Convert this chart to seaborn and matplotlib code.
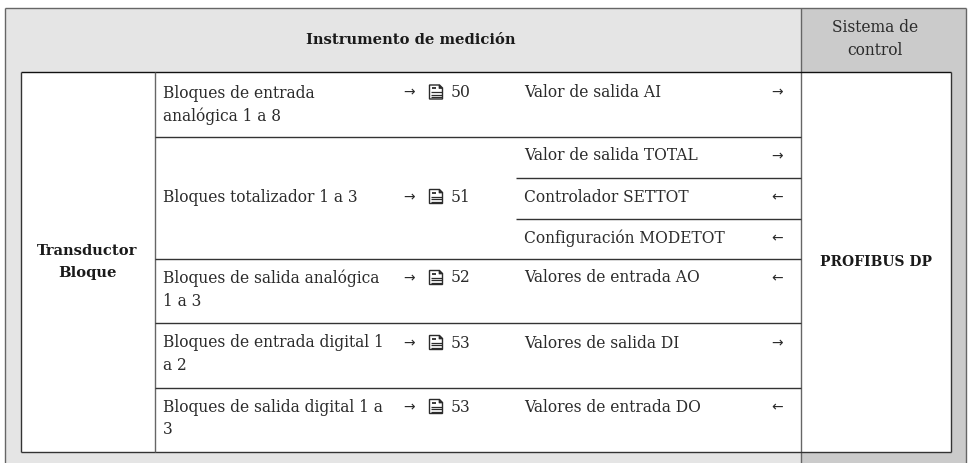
import numpy as np
import matplotlib
matplotlib.use("Agg")
import matplotlib.pyplot as plt
from matplotlib.colors import ListedColormap
from matplotlib.patches import Polygon
import seaborn as sns

WIDTH, HEIGHT = 968, 463
FONT = "DejaVu Serif"
TEXT_COLOR = "#2b2b2b"

# table content
header_left = "Instrumento de medición"
header_right = "Sistema de\ncontrol"
left_label = "Transductor\nBloque"
right_label = "PROFIBUS DP"
blocks = [
    "Bloques de entrada\nanalógica 1 a 8",
    "Bloques totalizador 1 a 3",
    "Bloques de salida analógica\n1 a 3",
    "Bloques de entrada digital 1\na 2",
    "Bloques de salida digital 1 a\n3",
]
block_text_y = [84.5, 188.5, 269.5, 334, 398.5]
block_pages = ["50", "51", "52", "53", "53"]
page_y = [92.5, 197, 278, 343, 407]
values = [
    "Valor de salida AI",
    "Valor de salida TOTAL",
    "Controlador SETTOT",
    "Configuración MODETOT",
    "Valores de entrada AO",
    "Valores de salida DI",
    "Valores de entrada DO",
]
value_y = [92.5, 156, 197, 238, 278, 343, 407]
value_arrows = ["→", "→", "←", "←", "←", "→", "←"]

# table rules, in pixels
row_lines = [136.5, 177.5, 218.5, 258.5, 323, 387.5]
row_line_start = [155, 516, 516, 155, 155, 155]


def background():
    """Pixel grid of the three fills: white, light grey, darker grey."""
    grid = np.zeros((HEIGHT, WIDTH))
    grid[8:, 5:801] = 1
    grid[8:, 801:966] = 2
    grid[72:452, 21:951] = 0
    return grid


def doc_icon(ax, x, y):
    """Small page symbol in front of the page numbers."""
    w, h = 13, 14
    outline = [(x, y), (x + w - 3, y), (x + w, y + 3), (x + w, y + h), (x, y + h)]
    ax.add_patch(Polygon(outline, closed=True, fc="white", ec=TEXT_COLOR, lw=1))
    ax.add_patch(Polygon([(x + w - 3.5, y), (x + w, y + 3.5), (x + w - 3.5, y + 3.5)],
                         closed=True, fc=TEXT_COLOR, ec=TEXT_COLOR, lw=0.5))
    ax.hlines([y + 7, y + 9.5, y + 12], x + 1, x + w - 1, color=TEXT_COLOR, lw=0.9)
    ax.hlines(y + 3, x + 2, x + 6, color=TEXT_COLOR, lw=1.3)


def main():
    sns.set_theme(style="white")
    fig = plt.figure(figsize=(WIDTH / 100, HEIGHT / 100), dpi=100)
    ax = fig.add_axes([0, 0, 1, 1])
    cmap = ListedColormap(["#ffffff", "#e5e5e5", "#cbcbcb"])
    sns.heatmap(background(), cmap=cmap, vmin=0, vmax=2, cbar=False,
                xticklabels=False, yticklabels=False, ax=ax)
    ax.set_xlim(0, WIDTH)
    ax.set_ylim(HEIGHT, 0)
    ax.axis("off")

    # outer and inner rules
    dark = "#333333"
    mid = "#666666"
    ax.hlines(7.5, 5, 966, color=mid, lw=1)
    ax.vlines(5, 7.5, HEIGHT, color=mid, lw=1)
    ax.vlines(800.5, 7.5, HEIGHT, color=mid, lw=1)
    ax.vlines(966, 7.5, HEIGHT, color=mid, lw=1)
    ax.hlines(72, 20.5, 950.5, color="#111111", lw=1)
    ax.hlines(452, 20.5, 950.5, color=dark, lw=1)
    ax.vlines(20.5, 72, 452, color=dark, lw=1)
    ax.vlines(950.5, 72, 452, color=dark, lw=1)
    ax.vlines(155, 72, 452, color=mid, lw=1)
    for y, x0 in zip(row_lines, row_line_start):
        ax.hlines(y, x0, 800.5, color=dark, lw=1)

    kw = dict(family=FONT, fontsize=11.2, color=TEXT_COLOR, linespacing=1.45)
    bold = dict(family=FONT, fontsize=10.6, color="#1a1a1a", linespacing=1.75,
                weight="bold")
    ax.text(410.5, 39.5, header_left, ha="center", va="center", **bold)
    ax.text(875, 39, header_right, ha="center", va="center", **kw)
    ax.text(87.5, 262, left_label, ha="center", va="center", **bold)
    ax.text(875.5, 262, right_label, ha="center", va="center", family=FONT,
            fontsize=10, color="#1a1a1a", weight="bold")

    for text, y in zip(blocks, block_text_y):
        ax.text(163, y, text, ha="left", va="top", **kw)
    for page, y in zip(block_pages, page_y):
        ax.text(409.5, y, "→", ha="center", va="center", family="DejaVu Sans",
                fontsize=10, color=TEXT_COLOR)
        doc_icon(ax, 429.5, y - 7.5)
        ax.text(451, y, page, ha="left", va="center", **kw)
    for text, y, arrow in zip(values, value_y, value_arrows):
        ax.text(524, y, text, ha="left", va="center", **kw)
        ax.text(777.5, y, arrow, ha="center", va="center", family="DejaVu Sans",
                fontsize=10, color=TEXT_COLOR)

    fig.savefig("out.png", dpi=100)


if __name__ == "__main__":
    main()
